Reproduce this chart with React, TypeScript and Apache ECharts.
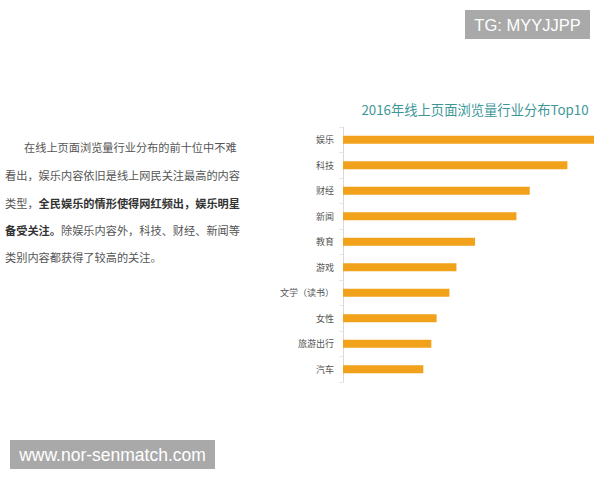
import React, { useEffect, useRef } from "react";
import * as echarts from "echarts";

const categories = ["娱乐", "科技", "财经", "新闻", "教育", "游戏", "文学（读书）", "女性", "旅游出行", "汽车"];
const values = [100, 89.4, 74.4, 69.1, 52.6, 45.2, 42.4, 37.3, 35.2, 32.0];
const chartTitle = "2016年线上页面浏览量行业分布Top10";
const paragraphLines = [
  "在线上页面浏览量行业分布的前十位中不难",
  "看出，娱乐内容依旧是线上网民关注最高的内容",
  "类型，{b|全民娱乐的情形使得网红频出，娱乐明星}",
  "{b|备受关注。}除娱乐内容外，科技、财经、新闻等",
  "类别内容都获得了较高的关注。",
];
const watermarkTop = "TG: MYYJJPP";
const watermarkBottom = "www.nor-senmatch.com";

const CJK = '"Noto Sans CJK SC", "Noto Sans", sans-serif';

export default function App() {
  const ref = useRef<HTMLDivElement>(null);
  useEffect(() => {
    if (!ref.current) return;
    const chart = echarts.init(ref.current, null, { renderer: "svg" });
    const paraStarts = [24, 5, 5, 5, 5];
    const paraY = [147, 175, 203, 230, 257];
    const paraGraphics = paragraphLines.map((line, i) => ({
      type: "text",
      x: paraStarts[i],
      y: paraY[i],
      style: {
        text: line,
        fill: "#555",
        fontSize: 11.2,
        fontFamily: CJK,
        verticalAlign: "middle",
        rich: {
          b: { fontWeight: "bold", fill: "#333", fontSize: 11.2, fontFamily: CJK },
        },
      },
    }));
    chart.setOption({
      animation: false,
      backgroundColor: "#fff",
      title: {
        text: chartTitle,
        left: 470,
        top: 98,
        textAlign: "center",
        textStyle: { color: "#3d9797", fontSize: 13.3, fontWeight: "normal", fontFamily: CJK },
      },
      grid: { left: 343, top: 127, width: 251, height: 255, containLabel: false },
      xAxis: {
        type: "value",
        min: 0,
        max: 100,
        show: false,
      },
      yAxis: {
        type: "category",
        data: categories,
        inverse: true,
        axisLine: { show: true, lineStyle: { color: "#d9d9d9", width: 1 } },
        axisTick: { show: true, length: 4, lineStyle: { color: "#e6e6e6" } },
        axisLabel: { color: "#555", fontSize: 9, margin: 9, fontFamily: CJK },
        splitLine: { show: false },
      },
      series: [
        {
          type: "bar",
          data: values,
          barWidth: 8,
          itemStyle: { color: "#f2a11b" },
          silent: true,
        },
      ],
      graphic: [
        ...paraGraphics,
        {
          type: "rect",
          shape: { x: 465, y: 10, width: 125, height: 29 },
          style: { fill: "#a9a9a9" },
        },
        {
          type: "text",
          x: 527.5,
          y: 24.5,
          style: {
            text: watermarkTop,
            fill: "#fff",
            fontSize: 16.5,
            fontFamily: '"Liberation Sans", Arial, sans-serif',
            align: "center",
            verticalAlign: "middle",
          },
        },
        {
          type: "rect",
          shape: { x: 10, y: 440, width: 205, height: 29 },
          style: { fill: "#a9a9a9" },
        },
        {
          type: "text",
          x: 112.5,
          y: 454.5,
          style: {
            text: watermarkBottom,
            fill: "#fff",
            fontSize: 17.5,
            fontFamily: '"Liberation Sans", Arial, sans-serif',
            align: "center",
            verticalAlign: "middle",
          },
        },
      ],
    });
    return () => chart.dispose();
  }, []);
  return (
    <div
      ref={ref}
      style={{ position: "fixed", left: 0, top: 0, width: 600, height: 480, background: "#fff" }}
    />
  );
}
